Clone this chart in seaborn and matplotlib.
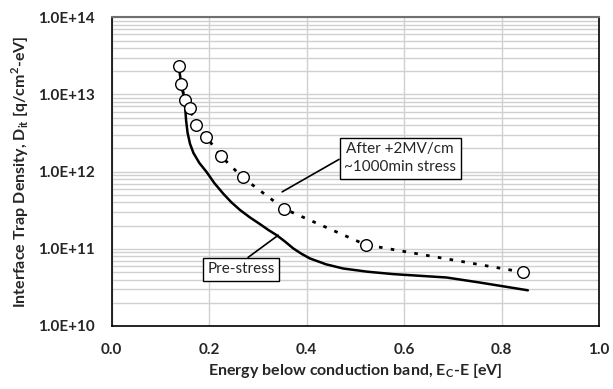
import numpy as np
import pandas as pd
import matplotlib
matplotlib.use("Agg")
import matplotlib.pyplot as plt
import seaborn as sns
from matplotlib.ticker import LogLocator, FixedLocator, NullFormatter

# ---- data ----
stress_E = [0.138, 0.143, 0.150, 0.160, 0.173, 0.194, 0.224, 0.269, 0.354, 0.521, 0.844]
stress_D = [2.31e13, 1.38e13, 8.6e12, 6.7e12, 4.0e12, 2.85e12, 1.6e12, 8.4e11, 3.3e11, 1.13e11, 4.98e10]

pre_E = [0.138, 0.143, 0.150, 0.151, 0.153, 0.156, 0.161, 0.168, 0.180, 0.195, 0.211, 0.229,
         0.246, 0.264, 0.284, 0.305, 0.322, 0.339, 0.356, 0.373, 0.390, 0.407, 0.440, 0.475,
         0.525, 0.578, 0.687, 0.755, 0.854]
pre_D = [2.31e13, 1.38e13, 8.6e12, 6.9e12, 4.6e12, 3.2e12, 2.3e12, 1.75e12, 1.3e12, 9.9e11,
         7.1e11, 5.2e11, 4.0e11, 3.17e11, 2.55e11, 2.08e11, 1.75e11, 1.5e11, 1.24e11, 1.01e11,
         8.6e10, 7.5e10, 6.3e10, 5.56e10, 5.05e10, 4.7e10, 4.25e10, 3.66e10, 2.9e10]

x_ticks = [0.0, 0.2, 0.4, 0.6, 0.8, 1.0]
x_ticklabels = ["0.0", "0.2", "0.4", "0.6", "0.8", "1.0"]
y_ticks = [1e10, 1e11, 1e12, 1e13, 1e14]
y_ticklabels = ["1.0E+10", "1.0E+11", "1.0E+12", "1.0E+13", "1.0E+14"]

stress_df = pd.DataFrame({"E": stress_E, "D": stress_D})
pre_df = pd.DataFrame({"E": pre_E, "D": pre_D})

sns.set_style("white")
plt.rcParams["font.family"] = ["Lato", "DejaVu Sans"]
plt.rcParams["mathtext.fontset"] = "custom"
plt.rcParams["mathtext.rm"] = "Lato"
plt.rcParams["mathtext.bf"] = "Lato:bold"

fig = plt.figure(figsize=(6.13, 3.89), dpi=100)
ax = fig.add_axes([0.1819, 0.1620, 0.9772 - 0.1819, 0.9555 - 0.1620])

ax.set_yscale("log")
ax.set_xlim(0, 1.0)
ax.set_ylim(1e10, 1e14)

# grid
ax.yaxis.set_minor_locator(LogLocator(base=10, subs=np.arange(2, 10)))
ax.yaxis.set_minor_formatter(NullFormatter())
ax.grid(True, which="major", axis="x", color="#d0d0d0", lw=1.0)
ax.grid(True, which="both", axis="y", color="#d0d0d0", lw=1.0)
ax.set_axisbelow(True)

sns.lineplot(data=pre_df, x="E", y="D", sort=False, ax=ax, color="black", lw=1.8,
             estimator=None, zorder=3)
sns.lineplot(data=stress_df, x="E", y="D", sort=False, ax=ax, color="black", lw=2.0,
             estimator=None, zorder=3, linestyle=(0, (1.3, 3.0)))
sns.scatterplot(data=stress_df, x="E", y="D", ax=ax, marker="o", s=70,
                facecolor="white", edgecolor="black", linewidth=1.0, zorder=4)

ax.set_xticks(x_ticks)
ax.set_xticklabels(x_ticklabels, fontsize=11, fontweight="bold")
ax.yaxis.set_major_locator(FixedLocator(y_ticks))
ax.set_yticklabels(y_ticklabels, fontsize=11, fontweight="bold")
ax.tick_params(axis="both", which="major", direction="inout", length=8, width=1.0,
               color="#404040", pad=8)
ax.tick_params(axis="y", which="minor", length=0)

for side in ["left", "bottom", "right"]:
    ax.spines[side].set_color("black")
    ax.spines[side].set_linewidth(1.2)
ax.spines["top"].set_color("#707070")
ax.spines["top"].set_linewidth(1.5)

ax.set_xlabel(r"Energy below conduction band, E$_\mathbf{C}$-E [eV]", fontsize=11.5,
              fontweight="bold", labelpad=3)
ax.set_ylabel(r"Interface Trap Density, D$_\mathbf{it}$ [q/cm$^\mathbf{2}$-eV]", fontsize=11.5,
              fontweight="bold", labelpad=5)

ax.annotate("After +2MV/cm\n~1000min stress", xy=(0.350, 5.47e11), xytext=(0.592, 1.5e12),
            ha="center", va="center", fontsize=11, linespacing=1.35,
            bbox=dict(boxstyle="square,pad=0.3", fc="white", ec="black", lw=1.0),
            arrowprops=dict(arrowstyle="-", color="black", lw=1.2, relpos=(0.0, 0.55),
                            shrinkA=0, shrinkB=0), zorder=5)
ax.annotate("Pre-stress", xy=(0.342, 1.5e11), xytext=(0.266, 5.4e10),
            ha="center", va="center", fontsize=11,
            bbox=dict(boxstyle="square,pad=0.3", fc="white", ec="black", lw=1.0),
            arrowprops=dict(arrowstyle="-", color="black", lw=1.2, relpos=(0.5, 1.0),
                            shrinkA=0, shrinkB=0), zorder=5)

fig.savefig("out.png", dpi=100)
